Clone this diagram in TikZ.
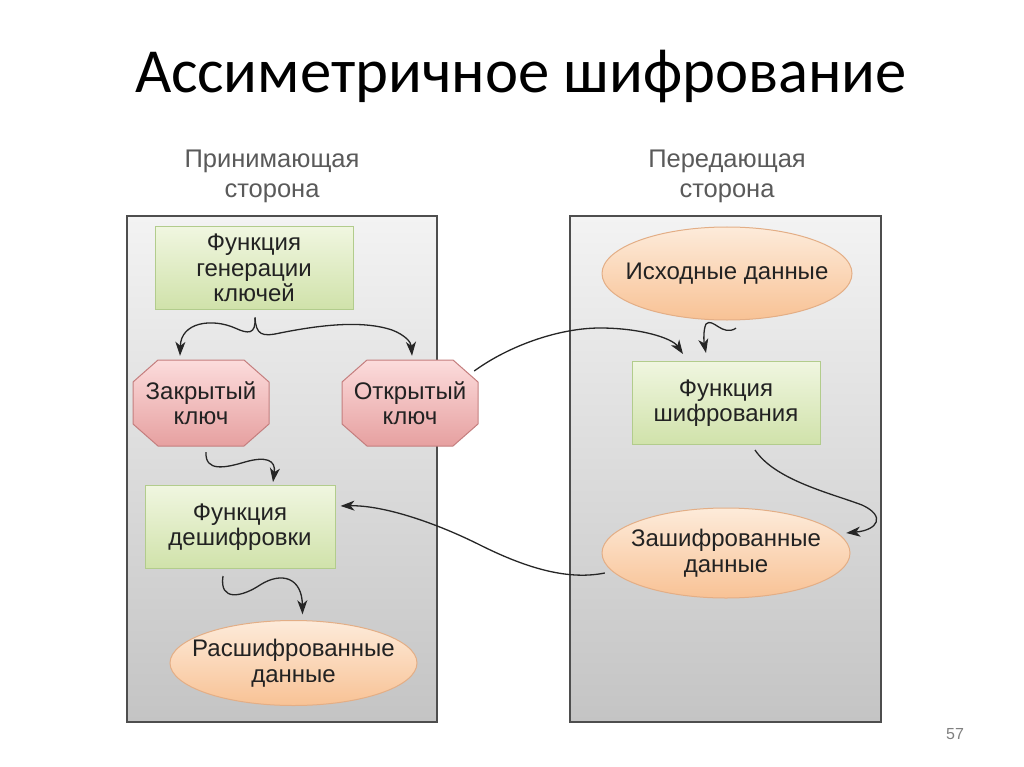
\documentclass[tikz,border=0pt]{standalone}
\usepackage{fontspec}
\setmainfont{Liberation Sans}
\newfontfamily\titlefont{Carlito}
\usetikzlibrary{arrows.meta,shapes.geometric,calc}
\definecolor{panelborder}{HTML}{4E4E4E}
\definecolor{paneltop}{HTML}{F3F3F3}
\definecolor{panelbot}{HTML}{C4C4C4}
\definecolor{greentop}{HTML}{F0F6E0}
\definecolor{greenbot}{HTML}{D0E2AA}
\definecolor{greenline}{HTML}{B2CC8C}
\definecolor{pinktop}{HTML}{FCDCDC}
\definecolor{pinkbot}{HTML}{E6A0A0}
\definecolor{pinkline}{HTML}{C47E7E}
\definecolor{oratop}{HTML}{FDEBDA}
\definecolor{orabot}{HTML}{F8C295}
\definecolor{oraline}{HTML}{E3AE86}
\definecolor{labelgray}{HTML}{5A5A5A}
\definecolor{txt}{HTML}{222222}
\newcommand\keyoct[2]{\path[keyfill] (#1-43,#2-43) -- (#1+43,#2-43) -- (#1+68,#2-21) -- (#1+68,#2+21) -- (#1+43,#2+43) -- (#1-43,#2+43) -- (#1-68,#2+21) -- (#1-68,#2-21) -- cycle;}
\newcommand\dataell[4]{\path[ellfill] (#1,#2) ellipse [x radius=#3, y radius=#4];}
\begin{document}
\begin{tikzpicture}[x=1pt,y=-1pt,
  panel/.style={draw=panelborder, line width=1.3pt, top color=paneltop, bottom color=panelbot},
  nodetext/.style={text=txt, align=center, font=\fontsize{24}{25.5}\selectfont, inner sep=0pt},
  funcbox/.style={nodetext, rectangle, draw=greenline, line width=1pt, top color=greentop, bottom color=greenbot},
  ellfill/.style={draw=oraline, line width=1pt, top color=oratop, bottom color=orabot},
  datatext/.style={nodetext, rectangle},
  keyfill/.style={draw=pinkline, line width=1pt, top color=pinktop, bottom color=pinkbot},
  keytext/.style={nodetext, rectangle, minimum width=136pt, minimum height=86pt},
  sidelabel/.style={text=labelgray, align=center, font=\fontsize{25.5}{30}\selectfont, inner sep=0pt},
  conn/.style={draw=black!85, line width=1.3pt, -{Stealth[length=14pt,width=10pt,inset=4pt]}}
]
\useasboundingbox (0,0) rectangle (1024,767);
\fill[white] (0,0) rectangle (1024,767);

% title
\node[font=\titlefont\fontsize{62.7}{70}\selectfont, anchor=base west, inner sep=0pt] (title) at (135,93) {Ассиметричное шифрование};

% side labels
\node[sidelabel] (recv) at (272,176) {Принимающая\\сторона};
\node[sidelabel] (send) at (727,176) {Передающая\\сторона};

% panels
\draw[panel] (127,216) rectangle (437,722);
\draw[panel] (570,216) rectangle (881,722);

% receiving side
\node[funcbox, minimum width=198pt, minimum height=82pt] (gen) at (254,268) {Функция\\генерации\\ключей};
\keyoct{201}{403}
\node[keytext] (ck) at (201,403) {Закрытый\\ключ};
\keyoct{410}{403}
\node[keytext] (ok) at (410,403) {Открытый\\ключ};
\node[funcbox, minimum width=190pt, minimum height=83pt] (dec) at (240,527) {Функция\\дешифровки};
\dataell{293.5}{663}{123.5}{42.5}
\node[datatext, minimum width=247pt, minimum height=85pt] (rd) at (293.5,663) {Расшифрованные\\данные};

% sending side
\dataell{727}{273.5}{125}{46.5}
\node[datatext, minimum width=250pt, minimum height=93pt] (src) at (727,273.5) {Исходные данные};
\node[funcbox, minimum width=188pt, minimum height=83pt] (enc) at (726,403) {Функция\\шифрования};
\dataell{726}{553}{124}{45}
\node[datatext, minimum width=248pt, minimum height=90pt] (ed) at (726,553) {Зашифрованные\\данные};

% page number
\node[text=black!50, font=\fontsize{16}{18}\selectfont, inner sep=0pt] (pnum) at (955,734) {57};

% connectors
\coordinate (bs) at ($(gen.south)+(1,8)$);
\draw[conn] (bs) .. controls (256,335) and (248,334) .. (235,328) .. controls (212,318) and (181,322) .. ($(ck.north)+(-21,-4)$);
\draw[conn] (bs) .. controls (256,335) and (262,337) .. (280,333) .. controls (320,325) and (362,320) .. (392,330) .. controls (405,335) and (411,342) .. ($(ok.north)+(2,-4)$);
\draw[conn] ($(ck.south)+(5,6)$) .. controls (205,472) and (225,468) .. (245,462) .. controls (266,456) and (276,460) .. ($(dec.north)+(33,-3)$);
\draw[conn] ($(dec.south)+(-17,7)$) .. controls (219,602) and (242,597) .. (260,585) .. controls (282,571) and (302,578) .. ($(rd.north)+(9,-6)$);
\draw[conn] ($(ok.east)+(-4,-32)$) .. controls (510,345) and (560,328) .. (600,328) .. controls (640,328) and (672,338) .. ($(enc.north)+(-43,-7)$);
\draw[conn] ($(src.south)+(9,8)$) .. controls (722,337) and (713,317) .. (706,324) .. controls (703,330) and (704,343) .. ($(enc.north)+(-20,-8)$);
\draw[conn] ($(enc.south)+(29,5)$) .. controls (775,480) and (830,493) .. (862,505) .. controls (886,516) and (878,530) .. ($(ed.east)+(-4,-20)$);
\draw[conn] ($(ed.west)+(3,20)$) .. controls (570,580) and (530,570) .. (480,545) .. controls (430,520) and (380,505) .. ($(dec.east)+(5,-21)$);
\end{tikzpicture}
\end{document}
